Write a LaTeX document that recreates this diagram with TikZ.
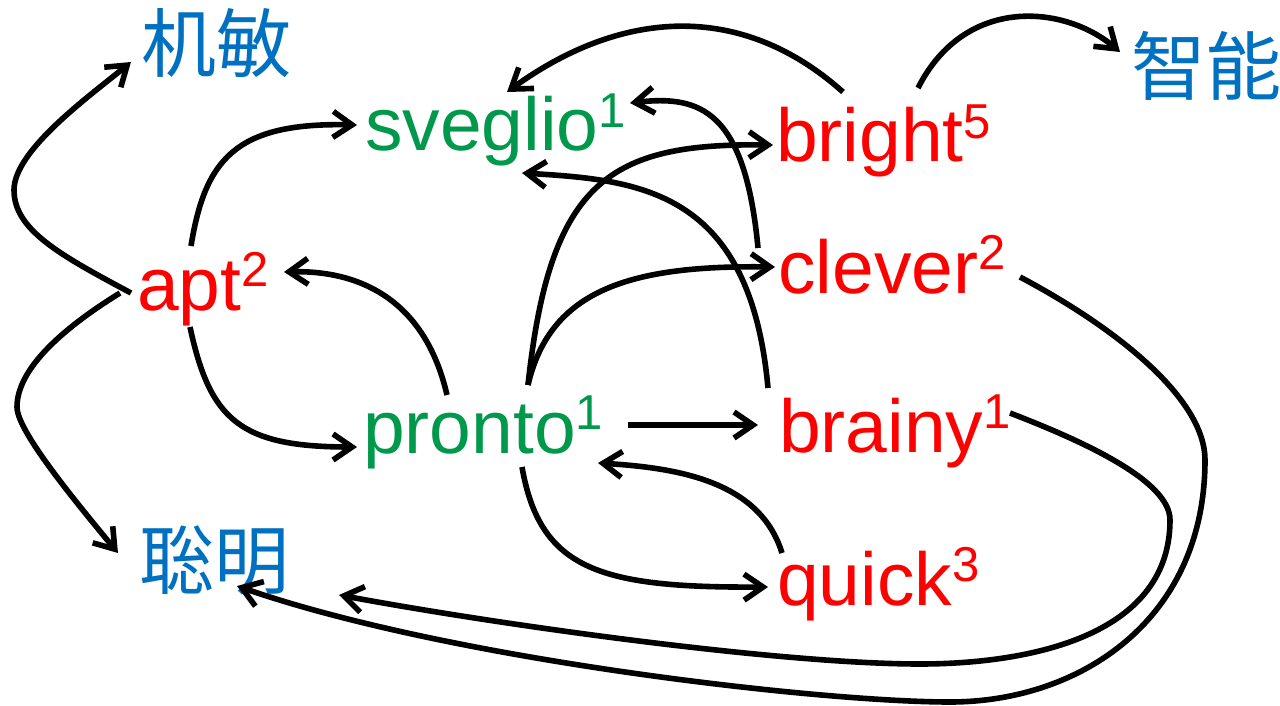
\documentclass[tikz,border=0pt]{standalone}
\usepackage{fontspec}
\setmainfont{Liberation Sans}
\newfontfamily\cjk{Noto Sans CJK JP}
\usetikzlibrary{arrows.meta,calc}
\definecolor{wred}{HTML}{FF0000}
\definecolor{wgreen}{HTML}{00994C}
\definecolor{wblue}{HTML}{0070C0}
\newcommand\supx[1]{\raisebox{24pt}{\fontsize{49}{49}\selectfont #1}}
\begin{document}
\begin{tikzpicture}[x=1pt,y=-1pt,
  word/.style={anchor=base west, inner sep=0pt, font=\fontsize{75}{80}\selectfont},
  en/.style={word, text=wred},
  it/.style={word, text=wgreen},
  zh/.style={inner sep=0pt, text=wblue, font=\fontsize{75}{80}\selectfont\cjk},
  arr/.style={line width=5.6pt, -{Straight Barb[length=19pt,width=26pt]}}]
\useasboundingbox (0,0) rectangle (1280,706);
% nodes
\node[en] (apt) at (137,310) {apt\supx{2}};
\node[it] (sveglio) at (365,151) {sveglio\supx{1}};
\node[it] (pronto) at (363,453) {pronto\supx{1}};
\node[en] (bright) at (776,162) {bright\supx{5}};
\node[en] (clever) at (778,293) {clever\supx{2}};
\node[en] (brainy) at (779,452) {brainy\supx{1}};
\node[en] (quick) at (777,605) {quick\supx{3}};
\node[zh] (jm) at (216,43) {机敏};
\node[zh] (zn) at (1206,66) {智能};
\node[zh] (cm) at (214,560) {聡明};
% connectors
\draw[arr] ([shift={(-6,-17)}]apt.base west) .. controls (60,255) and (14,230) .. (14,190)
  .. controls (14,150) and (91,95) .. ([shift={(-85,19)}]jm.center);
\draw[arr] ([shift={(-17,-17)}]apt.base west) .. controls (60,330) and (17,370) .. (17,407)
  .. controls (17,430) and (70,495) .. ([shift={(-96,-7)}]cm.center);
\draw[arr] ([shift={(54,-64)}]apt.base west) .. controls (205,160) and (235,122) .. ([shift={(-8,-26)}]sveglio.base west);
\draw[arr] ([shift={(53,17)}]apt.base west) .. controls (210,420) and (240,447) .. ([shift={(-6,-6)}]pronto.base west);
\draw[arr] ([shift={(84,-58)}]pronto.base west) .. controls (425,300) and (360,270) .. ([shift={(147,-38)}]apt.base west);
\draw[arr] ([shift={(265,-28)}]pronto.base west) -- ([shift={(-21,-27)}]brainy.base west);
\draw[arr] ([shift={(165,-68)}]pronto.base west) .. controls (550,180) and (610,143) .. ([shift={(-3,-17)}]bright.base west);
\draw[arr] ([shift={(165,-68)}]pronto.base west) .. controls (550,290) and (630,265) .. ([shift={(-3,-26)}]clever.base west);
\draw[arr] ([shift={(159,14)}]pronto.base west) .. controls (540,570) and (600,588) .. ([shift={(-9,-18)}]quick.base west);
\draw[arr] ([shift={(5,-52)}]quick.base west) .. controls (760,482) and (680,468) .. ([shift={(235,10)}]pronto.base west);
\draw[arr] ([shift={(67,-70)}]bright.base west) .. controls (740,0) and (620,10) .. ([shift={(142,-59)}]sveglio.base west);
\draw[arr] ([shift={(142,-74)}]bright.base west) .. controls (965,-5) and (1065,5) .. ([shift={(-86,-14)}]zn.center);
\draw[arr] ([shift={(-20,-45)}]clever.base west) .. controls (745,110) and (700,95) .. ([shift={(265,-48)}]sveglio.base west);
\draw[arr] ([shift={(-11,-64)}]brainy.base west) .. controls (750,190) and (640,180) .. ([shift={(157,22)}]sveglio.base west);
\draw[arr] ([shift={(242,-16)}]clever.base west) .. controls (1120,330) and (1205,400) .. (1205,460)
  .. controls (1205,620) and (1080,702) .. (950,702)
  .. controls (820,702) and (450,660) .. ([shift={(23,26)}]cm.center);
\draw[arr] ([shift={(231,-39)}]brainy.base west) .. controls (1080,440) and (1170,480) .. (1170,520)
  .. controls (1170,640) and (1020,664) .. (920,664)
  .. controls (780,664) and (500,625) .. ([shift={(125,35)}]cm.center);
\end{tikzpicture}
\end{document}
